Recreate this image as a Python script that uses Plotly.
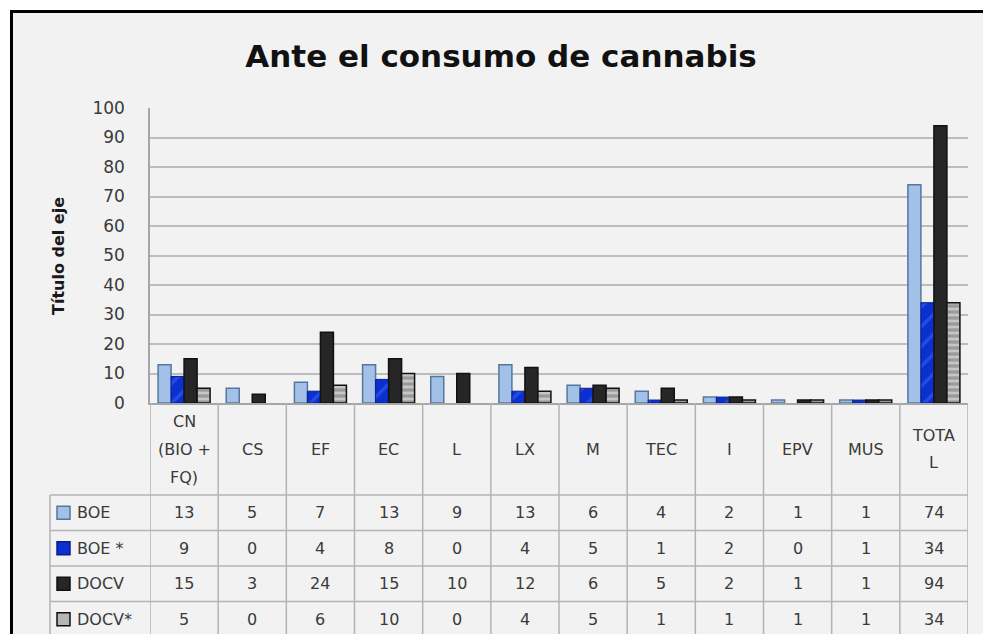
import plotly.graph_objects as go

# Chart data: responses by subject area
categories = ["CN<br>(BIO +<br>FQ)", "CS", "EF", "EC", "L", "LX", "M", "TEC", "I", "EPV", "MUS", "TOTA<br>L"]
series_names = ["BOE", "BOE *", "DOCV", "DOCV*"]
boe = [13, 5, 7, 13, 9, 13, 6, 4, 2, 1, 1, 74]
boe_star = [9, 0, 4, 8, 0, 4, 5, 1, 2, 0, 1, 34]
docv = [15, 3, 24, 15, 10, 12, 6, 5, 2, 1, 1, 94]
docv_star = [5, 0, 6, 10, 0, 4, 5, 1, 1, 1, 1, 34]
y_ticks = [0, 10, 20, 30, 40, 50, 60, 70, 80, 90, 100]

title_text = "Ante el consumo de cannabis"
axis_title = "Título del eje"

W, H = 983, 634
L, R, T, B = 150, 968, 108, 403          # plot area in pixels
PW, PH = R - L, B - T

FONT = "DejaVu Sans"
TXT = "#3A3A3A"
GRID = "#BDBDBD"
TABLE_LINE = "#B3B3B3"


def px_x(p):
    return (p - L) / PW


def px_y(p):
    return (B - p) / PH


series_values = [boe, boe_star, docv, docv_star]
fills = ["#A3C1E8", "#0B2FD0", "#262626", "#A8A8A8"]
outlines = ["#55779E", "#0A1F8C", "#111111", "#111111"]
outline_w = [1.5, 1, 1.5, 1.5]
patterns = [
    None,
    dict(shape="/", fgcolor="#3A6BF0", bgcolor="#0B2FD0", size=14, solidity=0.25),
    None,
    dict(shape="-", fgcolor="#F2F2F2", bgcolor="#9A9A9A", size=6, solidity=0.45),
]

fig = go.Figure()
for name, vals, fc, lc, lw, pat in zip(series_names, series_values, fills, outlines, outline_w, patterns):
    marker = dict(color=fc, line=dict(color=lc, width=[lw if v > 0 else 0 for v in vals]))
    if pat:
        marker["pattern"] = pat
    fig.add_trace(go.Bar(x=categories, y=vals, name=name, marker=marker, showlegend=False))

shapes = []
annotations = []

# white margin outside the chart frame (left and top strips)
shapes.append(dict(type="rect", xref="paper", yref="paper",
                   x0=px_x(0), x1=px_x(10), y0=px_y(H), y1=px_y(0),
                   fillcolor="#FFFFFF", line=dict(width=0), layer="below"))
shapes.append(dict(type="rect", xref="paper", yref="paper",
                   x0=px_x(0), x1=px_x(W), y0=px_y(10), y1=px_y(0),
                   fillcolor="#FFFFFF", line=dict(width=0), layer="below"))
# black frame edges
shapes.append(dict(type="line", xref="paper", yref="paper",
                   x0=px_x(11.5), x1=px_x(11.5), y0=px_y(10), y1=px_y(H),
                   line=dict(color="#000000", width=3), layer="below"))
shapes.append(dict(type="line", xref="paper", yref="paper",
                   x0=px_x(10), x1=px_x(W), y0=px_y(11.5), y1=px_y(11.5),
                   line=dict(color="#000000", width=3), layer="below"))

# data table geometry
header_bottom = 495
row_h = 35.5
row_tops = [header_bottom + i * row_h for i in range(len(series_names) + 1)]
table_left = 50
table_bottom = min(row_tops[-1], H)

# vertical column separators
for i in range(len(categories) + 1):
    shapes.append(dict(type="line", xref="x", yref="paper",
                       x0=i - 0.5, x1=i - 0.5, y0=px_y(B), y1=px_y(table_bottom),
                       line=dict(color=TABLE_LINE, width=1.5)))
shapes.append(dict(type="line", xref="paper", yref="paper",
                   x0=px_x(table_left), x1=px_x(table_left),
                   y0=px_y(header_bottom), y1=px_y(table_bottom),
                   line=dict(color=TABLE_LINE, width=1.5)))
# horizontal row separators
for yt in row_tops[:-1]:
    shapes.append(dict(type="line", xref="paper", yref="paper",
                       x0=px_x(table_left), x1=1, y0=px_y(yt), y1=px_y(yt),
                       line=dict(color=TABLE_LINE, width=1.5)))

# header labels (category names)
header_mid = (B + header_bottom) / 2
line_gap = 28
for cat in categories:
    parts = cat.split("<br>")
    n = len(parts)
    for k, part in enumerate(parts):
        yc = header_mid + (k - (n - 1) / 2) * line_gap
        annotations.append(dict(text=part, x=cat, xref="x", y=px_y(yc), yref="paper",
                                showarrow=False, xanchor="center", yanchor="middle",
                                font=dict(family=FONT, size=16, color=TXT)))

# table rows: legend key, series name, values
key_fills = ["#A3C1E8", "#0B2FD0", "#262626", "#B5B5B5"]
for r, (name, vals) in enumerate(zip(series_names, series_values)):
    yc = (row_tops[r] + row_tops[r + 1]) / 2
    shapes.append(dict(type="rect", xref="paper", yref="paper",
                       x0=px_x(57), x1=px_x(70), y0=px_y(yc + 6.5), y1=px_y(yc - 6.5),
                       fillcolor=key_fills[r], line=dict(color=outlines[r], width=1.5)))
    annotations.append(dict(text=name, x=px_x(75), xref="paper", y=px_y(yc), yref="paper",
                            showarrow=False, xanchor="left", yanchor="middle",
                            font=dict(family=FONT, size=16, color=TXT)))
    for cat, v in zip(categories, vals):
        annotations.append(dict(text=str(v), x=cat, xref="x", y=px_y(yc), yref="paper",
                                showarrow=False, xanchor="center", yanchor="middle",
                                font=dict(family=FONT, size=16, color=TXT)))

# rotated axis title
annotations.append(dict(text="<b>" + axis_title + "</b>", x=px_x(58), xref="paper",
                        y=px_y(256), yref="paper", textangle=-90, showarrow=False,
                        xanchor="center", yanchor="middle",
                        font=dict(family=FONT, size=16, color="#1A1A1A")))

fig.update_layout(
    width=W, height=H,
    margin=dict(l=L, r=W - R, t=T, b=H - B, pad=0),
    paper_bgcolor="#F2F2F2",
    plot_bgcolor="rgba(0,0,0,0)",
    barmode="group", bargap=0.237, bargroupgap=0,
    title=dict(text="<b>" + title_text + "</b>", x=501 / W, xanchor="center",
               y=1 - 56 / H, yanchor="middle", yref="container",
               font=dict(family=FONT, size=31, color="#111111")),
    shapes=shapes,
    annotations=annotations,
    xaxis=dict(type="category", range=[-0.5, len(categories) - 0.5], showticklabels=False,
               showgrid=False, showline=True, linecolor="#A6A6A6", linewidth=1.5,
               ticks="", zeroline=False, fixedrange=True),
    yaxis=dict(range=[0, 100], tickvals=y_ticks, showgrid=True, gridcolor=GRID, gridwidth=1.5,
               showline=True, linecolor="#A6A6A6", linewidth=1.5, zeroline=False,
               ticks="", ticklabelstandoff=20,
               tickfont=dict(family=FONT, size=17, color=TXT), fixedrange=True),
)

fig.write_html("out.html")
